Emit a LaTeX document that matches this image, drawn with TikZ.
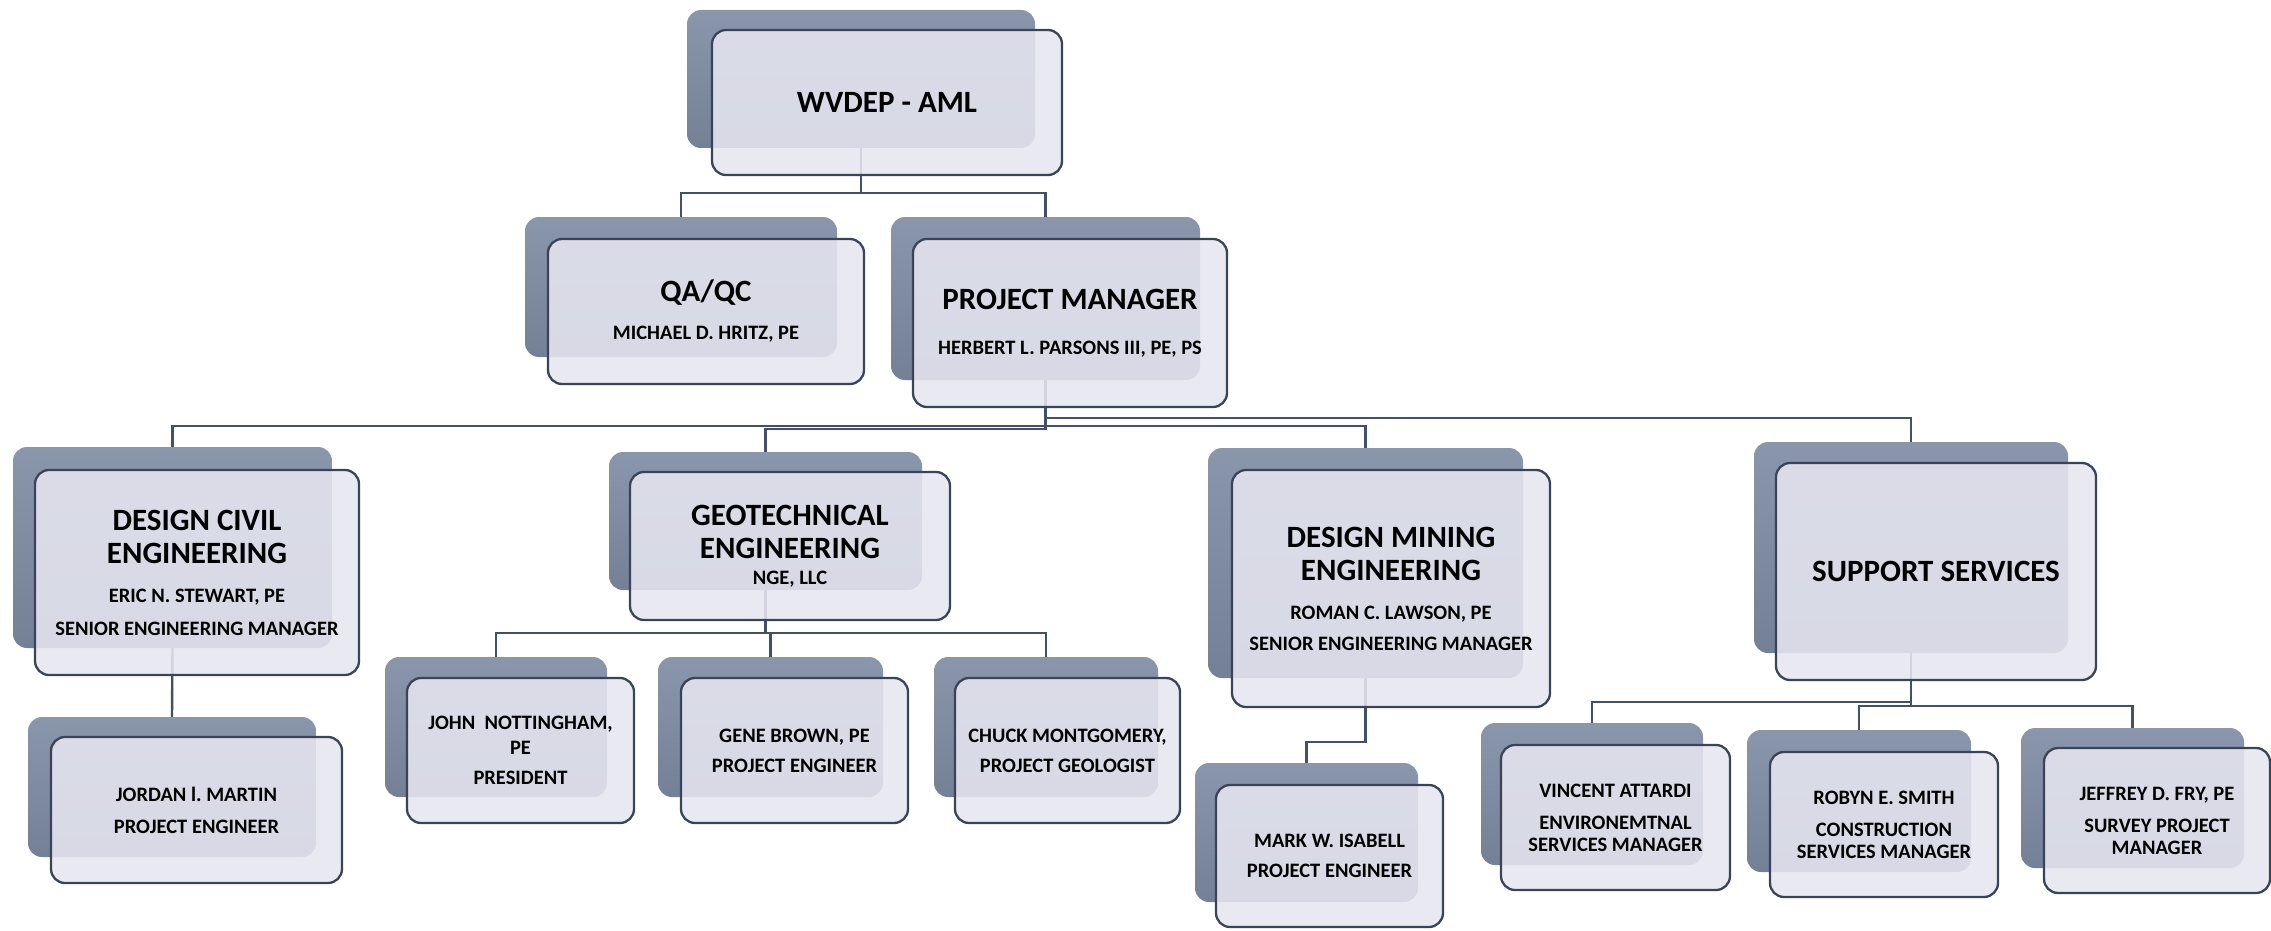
\documentclass[tikz,border=0pt]{standalone}
\usepackage{fontspec}
\setmainfont{Carlito}
\usetikzlibrary{calc}
\definecolor{backtop}{RGB}{138,150,172}
\definecolor{backbot}{RGB}{116,128,150}
\definecolor{frontcol}{RGB}{230,230,240}
\definecolor{edgecol}{RGB}{58,68,86}
\definecolor{linecol}{RGB}{68,80,104}
\newcommand\ttl[1]{{\fontsize{31}{34}\selectfont #1}}
\frenchspacing
\begin{document}
\begin{tikzpicture}[x=1pt,y=-1pt,
  backbox/.style={rectangle, rounded corners=14pt, top color=backtop, bottom color=backbot, draw=none, inner sep=0pt},
  frontbox/.style={rectangle, rounded corners=14pt, fill=frontcol, fill opacity=0.88, text opacity=1, draw=edgecol, draw opacity=1, line width=2.3pt, inner sep=0pt, align=center, font=\fontsize{20.5}{22}\selectfont\bfseries},
  conn/.style={draw=linecol, line width=2.4pt}
]
\useasboundingbox (0,0) rectangle (2271,931);

% ---------- back (shadow) boxes ----------
\node[backbox, minimum width=348pt, minimum height=138pt] (wvB)  at (861,79) {};
\node[backbox, minimum width=312pt, minimum height=140pt] (qaB)  at (681,287) {};
\node[backbox, minimum width=309pt, minimum height=163pt] (pmB)  at (1045.5,298.5) {};
\node[backbox, minimum width=319pt, minimum height=201pt] (dcB)  at (172.5,547.5) {};
\node[backbox, minimum width=313pt, minimum height=138pt] (geoB) at (765.5,521) {};
\node[backbox, minimum width=315pt, minimum height=230pt] (dmB)  at (1365.5,563) {};
\node[backbox, minimum width=314pt, minimum height=211pt] (ssB)  at (1911,547.5) {};
\node[backbox, minimum width=288pt, minimum height=140pt] (joB)  at (172,787) {};
\node[backbox, minimum width=222pt, minimum height=140pt] (jnB)  at (496,727) {};
\node[backbox, minimum width=225pt, minimum height=140pt] (gbB)  at (770.5,727) {};
\node[backbox, minimum width=224pt, minimum height=140pt] (cmB)  at (1046,727) {};
\node[backbox, minimum width=223pt, minimum height=139pt] (miB)  at (1306.5,832.5) {};
\node[backbox, minimum width=222pt, minimum height=142pt] (vaB)  at (1592,794) {};
\node[backbox, minimum width=224pt, minimum height=142pt] (rsB)  at (1859,801) {};
\node[backbox, minimum width=223pt, minimum height=140pt] (jfB)  at (2132.5,798) {};

% ---------- connectors ----------
\draw[conn] (wvB.south) -- (wvB.south |- 0,193) -| (qaB.north);
\draw[conn] (wvB.south) -- (wvB.south |- 0,193) -| (pmB.north);
\draw[conn] (pmB.south) -- (pmB.south |- 0,426) -| (dcB.north);
\draw[conn] (pmB.south) -- (pmB.south |- 0,429) -| (geoB.north);
\draw[conn] (pmB.south) -- (pmB.south |- 0,426) -| (dmB.north);
\draw[conn] (pmB.south) -- (pmB.south |- 0,418) -| (ssB.north);
\draw[conn] (dcB.south) -- (joB.north);
\draw[conn] (geoB.south) -- (geoB.south |- 0,633) -| (jnB.north);
\draw[conn] (geoB.south) -- (geoB.south |- 0,633) -| (gbB.north);
\draw[conn] (geoB.south) -- (geoB.south |- 0,633) -| (cmB.north);
\draw[conn] (dmB.south) -- (dmB.south |- 0,742) -| (miB.north);
\draw[conn] (ssB.south) -- (ssB.south |- 0,702) -| (vaB.north);
\draw[conn] (ssB.south) -- (ssB.south |- 0,706) -| (rsB.north);
\draw[conn] (ssB.south) -- (ssB.south |- 0,706) -| (jfB.north);

% ---------- front boxes ----------
\node[frontbox, minimum width=350pt, minimum height=145pt] (wv) at (887,102.5) {\ttl{WVDEP - AML}};
\node[frontbox, minimum width=316pt, minimum height=145pt] (qa) at (706,311.5)
  {\ttl{QA/QC}\\[16pt]MICHAEL D. HRITZ, PE};
\node[frontbox, minimum width=314pt, minimum height=168pt] (pm) at (1070,323)
  {\ttl{PROJECT MANAGER}\\[23pt]HERBERT L. PARSONS III, PE, PS};
\node[frontbox, minimum width=324pt, minimum height=205pt] (dc) at (197,572.5)
  {\ttl{DESIGN CIVIL}\\[11pt]\ttl{ENGINEERING}\\[17pt]ERIC N. STEWART, PE\\[11pt]SENIOR ENGINEERING MANAGER};
\node[frontbox, minimum width=320pt, minimum height=148pt] (geo) at (790,546)
  {\ttl{GEOTECHNICAL}\\[11pt]\ttl{ENGINEERING}\\[4pt]NGE, LLC};
\node[frontbox, minimum width=318pt, minimum height=237pt] (dm) at (1391,588.5)
  {\ttl{DESIGN MINING}\\[11pt]\ttl{ENGINEERING}\\[17pt]ROMAN C. LAWSON, PE\\[9pt]SENIOR ENGINEERING MANAGER};
\node[frontbox, minimum width=320pt, minimum height=217pt] (ss) at (1936,571.5) {\ttl{SUPPORT SERVICES}};
\node[frontbox, minimum width=291pt, minimum height=146pt] (jo) at (196.5,810)
  {JORDAN l. MARTIN\\[10pt]PROJECT ENGINEER};
\node[frontbox, minimum width=227pt, minimum height=145pt] (jn) at (520.5,750.5)
  {JOHN~~NOTTINGHAM,\\[3pt]PE\\[8pt]PRESIDENT};
\node[frontbox, minimum width=227pt, minimum height=145pt] (gb) at (794.5,750.5)
  {GENE BROWN, PE\\[8pt]PROJECT ENGINEER};
\node[frontbox, minimum width=225pt, minimum height=145pt] (cm) at (1067.5,750.5)
  {CHUCK MONTGOMERY,\\[8pt]PROJECT GEOLOGIST};
\node[frontbox, minimum width=227pt, minimum height=142pt] (mi) at (1329.5,856)
  {MARK W. ISABELL\\[8pt]PROJECT ENGINEER};
\node[frontbox, minimum width=229pt, minimum height=145pt] (va) at (1615.5,817.5)
  {VINCENT ATTARDI\\[10pt]ENVIRONEMTNAL\\SERVICES MANAGER};
\node[frontbox, minimum width=228pt, minimum height=145pt] (rs) at (1884,824.5)
  {ROBYN E. SMITH\\[10pt]CONSTRUCTION\\SERVICES MANAGER};
\node[frontbox, minimum width=226pt, minimum height=145pt] (jf) at (2157,820.5)
  {JEFFREY D. FRY, PE\\[10pt]SURVEY PROJECT\\MANAGER};
\end{tikzpicture}
\end{document}
